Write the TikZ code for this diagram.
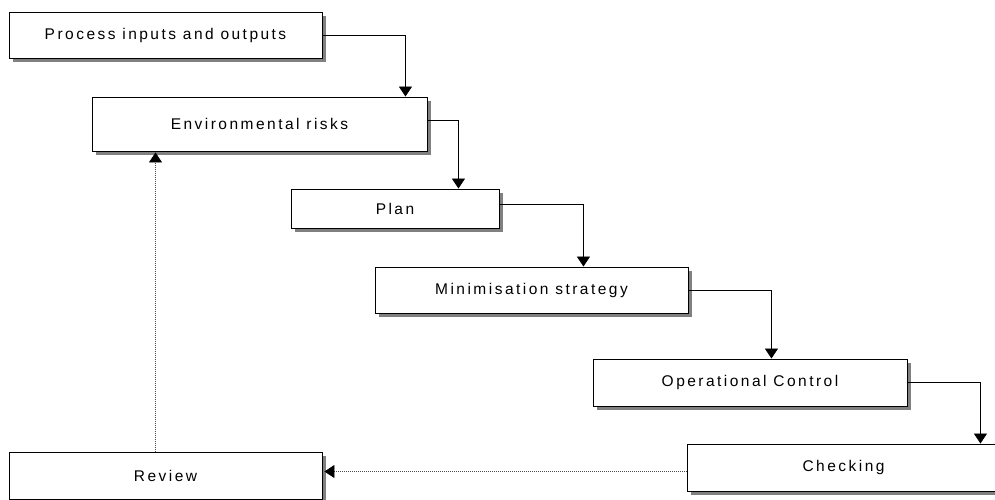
\documentclass[tikz,border=0pt]{standalone}
\usepackage{fontspec}
\setmainfont{Liberation Sans}[LetterSpace=16]
\usetikzlibrary{arrows.meta,calc,shadows}

\begin{document}
\begin{tikzpicture}[x=1pt,y=-1pt,
  stepbox/.style={draw=black,line width=0.9pt,fill=white,
    minimum width=313pt,minimum height=46pt,inner sep=0pt,
    font=\fontsize{15.5}{18}\selectfont,
    drop shadow={shadow xshift=3.5pt,shadow yshift=-3.5pt,fill=black!50,opacity=1}},
  tip/.style={-{Triangle[length=10pt,width=13pt,color=black]}},
  flow/.style={tip,draw=black,line width=0.8pt},
  back/.style={tip,draw=black!70,line width=0.7pt,dash pattern=on 0.8pt off 1.2pt}]

  \clip (0,0) rectangle (995,499);
  \fill[white] (0,0) rectangle (995,499);

  % process steps
  \node[stepbox] (pio)  at (165.5,35)  {\raisebox{-1.5pt}{Process inputs and outputs}};
  \node[stepbox,minimum width=335pt,minimum height=54pt] (env) at (259.5,124) {\raisebox{-1.5pt}{Environmental risks}};
  \node[stepbox,minimum width=208pt,minimum height=39pt] (plan) at (395,208.5) {\raisebox{-1.5pt}{Plan}};
  \node[stepbox] (mini) at (531.5,290) {\raisebox{-1.5pt}{Minimisation strategy}};
  \node[stepbox,minimum width=314pt,minimum height=47pt] (opc) at (750,382.5) {\raisebox{-1.5pt}{Operational Control}};
  \node[stepbox,minimum height=47pt] (chk) at (843.5,467.5) {\raisebox{-1.5pt}{Checking}};
  \node[stepbox,minimum height=47pt] (rev) at (165.5,475.5) {\raisebox{-1.5pt}{Review}};

  % forward flow
  \draw[flow] (pio.east) -| ([xshift=-22pt]env.north east);
  \draw[flow] ([yshift=4pt]env.east) -| ([xshift=-41pt]plan.north east);
  \draw[flow] ([yshift=4pt]plan.east) -| ([xshift=-105pt]mini.north east);
  \draw[flow] (mini.east) -| ([xshift=-136pt]opc.north east);
  \draw[flow] (opc.east) -| ([xshift=-20pt]chk.north east);

  % feedback loop
  \coordinate (chkin) at ([yshift=-4pt]chk.west);
  \draw[back] (chkin) -- ([xshift=2pt]chkin -| rev.east);
  \draw[back] ([xshift=-10pt]rev.north) -- ([xshift=-10pt,yshift=-1pt]rev.north |- env.south);
\end{tikzpicture}
\end{document}
